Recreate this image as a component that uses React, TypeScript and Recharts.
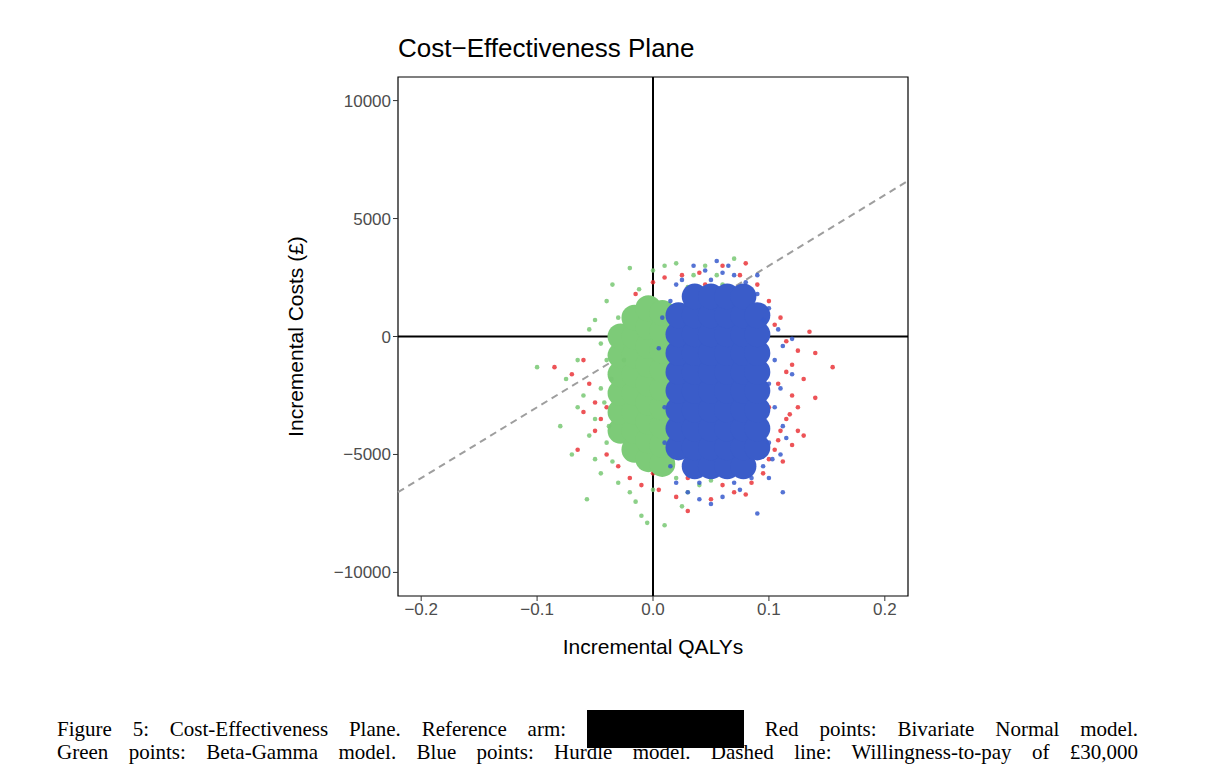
import { ScatterChart, Scatter, XAxis, YAxis, ReferenceLine, ReferenceArea, Label } from 'recharts';

type P = { x: number; y: number };
const pts = (a: number[][]): P[] => a.map(([x, y]) => ({ x, y }));

const xTicks = [-0.2, -0.1, 0, 0.1, 0.2];
const yTicks = [-10000, -5000, 0, 5000, 10000];
const wtpLine = [{ x: -0.22, y: -6600 }, { x: 0.22, y: 6600 }];

const redPoints = pts([
  [-0.085,-1300],[-0.065,-4800],[-0.06,-1000],[-0.055,-2000],[-0.05,-2800],[-0.045,-3500],[-0.04,-5000],[-0.035,-600],
  [-0.03,-5500],[-0.025,-4200],[-0.02,300],[-0.02,-6000],[-0.015,1800],[-0.01,-6300],[0,2300],[0.005,-6500],[0.01,2500],
  [0.02,-6800],[0.025,2600],[0.03,-7400],[0.04,2700],[0.05,-6900],[0.06,3000],[0.07,-6600],[0.075,2600],[0.08,3100],
  [0.085,-6200],[0.09,2200],[0.095,-5800],[0.1,1500],[0.1,-5200],[0.105,-4800],[0.11,800],[0.11,-4000],[0.115,-3500],
  [0.115,-200],[0.12,-1200],[0.12,-2500],[0.125,-3000],[0.125,-4000],[0.13,-1800],[0.135,200],[0.14,-700],[0.14,-2600],
  [0.155,-1300],[0.13,-4200],[0.12,-4600],[0.105,500],[0.108,-2000],[0.1,-3000],[-0.03,-2500],[-0.04,-3000],[-0.05,-4000],
  [-0.06,-3200],[-0.07,-1600],[-0.02,-1500],[0.03,-6000],[0.06,-6300],[0.045,2200],[0.015,1200],[0,-5800],[0.09,-5000],
  [0.08,-6700],[0.112,-5300],[0.125,-600],[0.118,-3300],[0.108,-4400],[0.115,-1500],
]);

const greenPoints = pts([
  [-0.1,-1300],[-0.08,-3800],[-0.075,-1800],[-0.07,-5000],[-0.065,-1000],[-0.06,-2500],[-0.057,-6900],[-0.055,300],
  [-0.05,700],[-0.05,-3500],[-0.045,-5800],[-0.04,-4500],[-0.04,1500],[-0.035,2200],[-0.03,-6200],[-0.025,-1000],
  [-0.02,2900],[-0.015,-7000],[-0.01,-7600],[-0.005,-7900],[0,2800],[0.01,-8000],[0.01,3000],[0.02,3100],[0.025,-7200],
  [0.03,-6600],[0.035,2600],[0.04,-6300],[0.045,3000],[0.05,-6100],[0.055,2600],[0.07,3300],[0.06,2200],[-0.02,-6600],
  [-0.035,-5300],[-0.045,-2200],[-0.055,-4200],[-0.03,800],[-0.012,2000],[0.02,-6000],[-0.065,-3000],[-0.05,-5200],
  [0,-6500],[0.03,2100],[0.05,2000],[-0.04,-1000],[-0.045,-300],[-0.038,-3800],[-0.042,-2800],[-0.036,-1800],
]);

const greenCore = pts([
  [-0.028,-4000],[-0.028,-3200],[-0.028,-2400],[-0.028,-1600],[-0.028,-800],[-0.028,0],
  [-0.016,-4800],[-0.016,-4000],[-0.016,-3200],[-0.016,-2400],[-0.016,-1600],[-0.016,-800],[-0.016,0],[-0.016,800],
  [-0.004,-5200],[-0.004,-4400],[-0.004,-3600],[-0.004,-2800],[-0.004,-2000],[-0.004,-1200],[-0.004,-400],[-0.004,400],[-0.004,1200],
  [0.008,-5400],[0.008,-4600],[0.008,-3800],[0.008,-3000],[0.008,-2200],[0.008,-1400],[0.008,-600],[0.008,200],[0.008,1000],
]);

const bluePoints = pts([
  [0.01,-3000],[0.015,1500],[0.02,-6200],[0.025,2400],[0.03,-6600],[0.035,3000],[0.04,-6900],[0.045,2800],[0.05,-7100],
  [0.055,3200],[0.06,-6800],[0.065,3000],[0.07,2600],[0.075,-6500],[0.08,2300],[0.085,-6000],[0.09,-7500],[0.09,1800],
  [0.095,-5500],[0.1,1200],[0.1,-4500],[0.105,-3000],[0.105,-1000],[0.108,300],[0.11,-2200],[0.112,-3800],[0.112,-400],
  [0.12,-100],[0.12,-1600],[0.11,-5000],[0.1,-6000],[0.112,-6600],[0.115,-4300],[0.005,-500],[0.01,-4500],[0.008,800],
  [0.015,-5500],[0.02,2200],[0.05,2400],[0.07,-6200],[0.04,-6200],[0.1,-2000],[0.095,700],[0.103,-5200],[0.09,2600],[0.06,2700],
]);

const blueCore = pts([
  [0.022,-4700],[0.022,-3900],[0.022,-3100],[0.022,-2300],[0.022,-1500],[0.022,-700],[0.022,100],[0.022,900],
  [0.036,-5500],[0.036,-4700],[0.036,-3900],[0.036,-3100],[0.036,-2300],[0.036,-1500],[0.036,-700],[0.036,100],[0.036,900],[0.036,1700],
  [0.05,-5500],[0.05,-4700],[0.05,-3900],[0.05,-3100],[0.05,-2300],[0.05,-1500],[0.05,-700],[0.05,100],[0.05,900],[0.05,1700],
  [0.064,-5500],[0.064,-4700],[0.064,-3900],[0.064,-3100],[0.064,-2300],[0.064,-1500],[0.064,-700],[0.064,100],[0.064,900],[0.064,1700],
  [0.078,-5500],[0.078,-4700],[0.078,-3900],[0.078,-3100],[0.078,-2300],[0.078,-1500],[0.078,-700],[0.078,100],[0.078,900],[0.078,1700],
  [0.09,-4700],[0.09,-3900],[0.09,-3100],[0.09,-2300],[0.09,-1500],[0.09,-700],[0.09,100],[0.09,900],
]);

const dot = (fill: string, r: number) => (p: any) => <circle cx={p.cx} cy={p.cy} r={r} fill={fill} />;
const tickStyle = { fill: '#4d4d4d', fontSize: 17, fontFamily: 'Liberation Sans, Arial, sans-serif' };
const captionLine = { textAlign: 'justify' as const, textAlignLast: 'justify' as const, height: 28 };

export default function App() {
  return (
    <div style={{ position: 'relative', width: 1200, height: 762, fontFamily: 'Liberation Sans, Arial, sans-serif' }}>
      <div style={{ position: 'absolute', left: 390, top: 25, fontSize: 26, color: '#000' }}>Cost−Effectiveness Plane</div>
      <ScatterChart width={1200} height={680} margin={{ top: 69, right: 300, bottom: 32, left: 320 }}>
        <XAxis type="number" dataKey="x" domain={[-0.22, 0.22]} ticks={xTicks} allowDataOverflow height={60}
          tick={tickStyle} tickLine={{ stroke: '#333' }} axisLine={false} tickSize={5}
          tickFormatter={(v: number) => (v < 0 ? '−' + Math.abs(v).toFixed(1) : v.toFixed(1))}>
          <Label value="Incremental QALYs" position="insideBottom" offset={2} style={{ fontSize: 21, fill: '#000' }} />
        </XAxis>
        <YAxis type="number" dataKey="y" domain={[-11000, 11000]} ticks={yTicks} allowDataOverflow width={70}
          tick={tickStyle} tickLine={{ stroke: '#333' }} axisLine={false} tickSize={5}
          tickFormatter={(v: number) => (v < 0 ? '−' + Math.abs(v) : String(v))}>
          <Label value="Incremental Costs (£)" angle={-90} position="left" offset={32} style={{ fontSize: 21, fill: '#000', textAnchor: 'middle' }} />
        </YAxis>
        <Scatter data={redPoints} shape={dot('rgba(232,40,45,0.8)', 2.3)} isAnimationActive={false} />
        <Scatter data={greenCore} shape={dot('#7dcb78', 13)} isAnimationActive={false} />
        <Scatter data={greenPoints} shape={dot('rgba(120,200,115,0.85)', 2.3)} isAnimationActive={false} />
        <Scatter data={blueCore} shape={dot('#3a5cc9', 13)} isAnimationActive={false} />
        <Scatter data={bluePoints} shape={dot('rgba(55,90,205,0.85)', 2.3)} isAnimationActive={false} />
        <ReferenceLine segment={wtpLine} stroke="#9e9e9e" strokeWidth={2} strokeDasharray="7 5" />
        <ReferenceLine x={0} stroke="#000" strokeWidth={2} />
        <ReferenceLine y={0} stroke="#000" strokeWidth={2} />
        <ReferenceArea x1={-0.22} x2={0.22} y1={-11000} y2={11000} fill="none" stroke="#000" strokeWidth={1.2} />
      </ScatterChart>
      <div style={{ position: 'absolute', left: 49, top: 702, width: 1081, fontFamily: 'Liberation Serif, serif', fontSize: 21, lineHeight: '28px', color: '#000', whiteSpace: 'nowrap' }}>
        <div style={captionLine}>Figure 5: Cost-Effectiveness Plane. Reference arm: <span style={{ display: 'inline-block', width: 157, height: 38, background: '#000', verticalAlign: '-12px' }} /> Red points: Bivariate Normal model.</div>
        <div style={captionLine}>Green points: Beta-Gamma model. Blue points: Hurdle model. Dashed line: Willingness-to-pay of £30,000</div>
      </div>
    </div>
  );
}
